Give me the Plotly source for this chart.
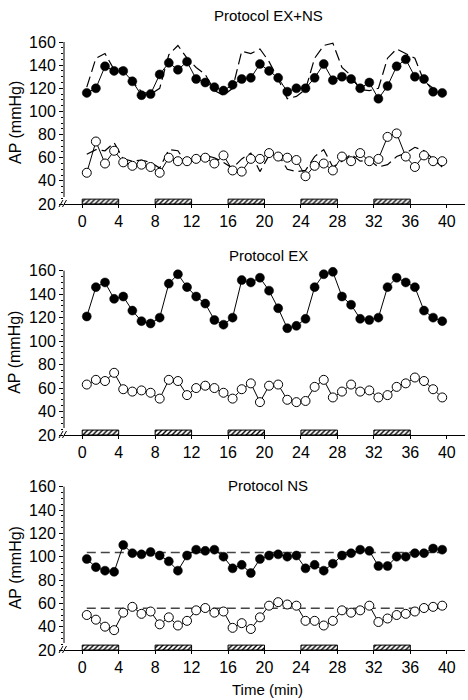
import plotly.graph_objects as go

# ---------------- data ----------------
time_min = [0.5, 1.5, 2.5, 3.5, 4.5, 5.5, 6.5, 7.5, 8.5, 9.5,
            10.5, 11.5, 12.5, 13.5, 14.5, 15.5, 16.5, 17.5, 18.5, 19.5,
            20.5, 21.5, 22.5, 23.5, 24.5, 25.5, 26.5, 27.5, 28.5, 29.5,
            30.5, 31.5, 32.5, 33.5, 34.5, 35.5, 36.5, 37.5, 38.5, 39.5]

exns_sys = [116, 120, 139, 135, 135, 126, 114, 115, 132, 142,
            136, 143, 128, 125, 121, 118, 123, 128, 129, 141,
            135, 129, 117, 120, 120, 129, 141, 127, 130, 128,
            120, 125, 111, 122, 139, 145, 130, 128, 117, 116]
exns_dia = [47, 74, 55, 66, 56, 53, 54, 52, 47, 60,
            57, 57, 59, 60, 55, 62, 49, 48, 59, 59,
            64, 61, 60, 58, 44, 53, 55, 49, 61, 57,
            64, 57, 59, 78, 81, 61, 52, 62, 57, 57]

ex_sys = [121, 146, 150, 136, 138, 126, 117, 115, 120, 149,
          157, 146, 138, 132, 118, 114, 120, 152, 150, 154,
          143, 128, 111, 113, 119, 146, 157, 159, 138, 131,
          119, 118, 120, 146, 154, 150, 146, 126, 120, 117]
ex_dia = [63, 67, 66, 73, 59, 57, 58, 56, 51, 67,
          66, 54, 60, 62, 60, 56, 51, 59, 64, 48,
          62, 63, 50, 48, 49, 61, 67, 52, 57, 63,
          57, 58, 52, 54, 61, 64, 69, 66, 59, 52]

ns_sys = [98, 91, 88, 87, 110, 103, 102, 104, 101, 96,
          88, 101, 106, 105, 106, 100, 90, 93, 86, 98,
          101, 102, 100, 101, 90, 93, 88, 94, 101, 103,
          106, 105, 92, 92, 100, 100, 103, 103, 107, 106]
ns_dia = [50, 46, 40, 37, 52, 57, 51, 53, 42, 48,
          41, 45, 54, 56, 52, 53, 39, 43, 38, 48,
          58, 61, 59, 58, 45, 45, 41, 45, 54, 52,
          54, 58, 44, 47, 50, 51, 53, 56, 57, 58]

ns_sys_mean = 103.5
ns_dia_mean = 55.7

exercise_start = [0, 8, 16, 24, 32]
exercise_duration = 4

panel_titles = ["Protocol EX+NS", "Protocol EX", "Protocol NS"]
y_title = "AP (mmHg)"
x_title = "Time (min)"
y_ticks = [20, 40, 60, 80, 100, 120, 140, 160]
x_ticks = [0, 4, 8, 12, 16, 20, 24, 28, 32, 36, 40]

# ---------------- layout geometry (pixels) ----------------
W, H = 468, 700
AX_X0, AX_X1 = 64, 465
panels_px = [(42, 204), (270.7, 435), (486.7, 650)]   # (top=160, bottom=20)
title_y_px = [15.5, 255.5, 485.5]
FONT = "Liberation Sans, Arial, Helvetica, sans-serif"


def px_x(p):
    return p / W


def px_y(p):
    return 1 - p / H


fig = go.Figure()

filled = dict(symbol="circle", size=9, color="black", line=dict(color="black", width=0.5))
opened = dict(symbol="circle", size=9, color="white", line=dict(color="black", width=1))

series = [
    (exns_sys, exns_dia, (ex_sys, ex_dia), None),
    (ex_sys, ex_dia, None, None),
    (ns_sys, ns_dia, None, (ns_sys_mean, ns_dia_mean)),
]

bar_x = [s + exercise_duration / 2 for s in exercise_start]

for i, (sysv, diav, overlay, means) in enumerate(series):
    xa = "x" if i == 0 else f"x{i+1}"
    ya = "y" if i == 0 else f"y{i+1}"
    # hatched exercise bars
    fig.add_trace(go.Bar(
        x=bar_x, y=[4.2] * len(bar_x), base=20, width=exercise_duration,
        marker=dict(color="white", line=dict(color="black", width=1),
                    pattern=dict(shape="/", fgcolor="black", bgcolor="white",
                                 size=3.5, solidity=0.4)),
        xaxis=xa, yaxis=ya, showlegend=False, hoverinfo="skip"))
    if overlay is not None:
        for ov in overlay:
            fig.add_trace(go.Scatter(
                x=time_min, y=ov, mode="lines",
                line=dict(color="black", width=1.2, dash="11px,5px"),
                xaxis=xa, yaxis=ya, showlegend=False, cliponaxis=False))
    if means is not None:
        for m in means:
            fig.add_trace(go.Scatter(
                x=[time_min[0], time_min[-1]], y=[m, m], mode="lines",
                line=dict(color="#444", width=1.5, dash="9px,5px"),
                xaxis=xa, yaxis=ya, showlegend=False, cliponaxis=False))
    fig.add_trace(go.Scatter(
        x=time_min, y=sysv, mode="lines+markers",
        line=dict(color="black", width=1), marker=filled,
        xaxis=xa, yaxis=ya, showlegend=False, cliponaxis=False))
    fig.add_trace(go.Scatter(
        x=time_min, y=diav, mode="lines+markers",
        line=dict(color="black", width=1), marker=opened,
        xaxis=xa, yaxis=ya, showlegend=False, cliponaxis=False))

layout = dict(
    width=W, height=H,
    margin=dict(l=0, r=0, t=0, b=0),
    paper_bgcolor="white", plot_bgcolor="white",
    font=dict(family=FONT, size=15, color="black"),
    barmode="overlay",
    template="none",
)

shapes = []
annotations = []
for i, (top, bot) in enumerate(panels_px):
    sfx = "" if i == 0 else str(i + 1)
    layout["xaxis" + sfx] = dict(
        domain=[px_x(AX_X0), px_x(AX_X1)], range=[-2, 42],
        anchor="y" + sfx, tickmode="array", tickvals=x_ticks,
        ticks="outside", ticklen=3, tickcolor="black",
        showline=True, linecolor="black", linewidth=1,
        showgrid=False, zeroline=False, automargin=False,
        tickfont=dict(family=FONT, size=16, color="black"))
    layout["yaxis" + sfx] = dict(
        domain=[px_y(bot), px_y(top)], range=[20, 160],
        anchor="x" + sfx, tickmode="array", tickvals=y_ticks,
        ticks="outside", ticklen=4, tickcolor="black",
        minor=dict(dtick=5, tick0=0, ticks="outside", ticklen=2, tickcolor="black"),
        showline=False, showgrid=False, zeroline=False, automargin=False,
        tickfont=dict(family=FONT, size=16, color="black"))
    # y axis line (broken near bottom)
    shapes.append(dict(type="line", xref="paper", yref="paper",
                       x0=px_x(AX_X0), x1=px_x(AX_X0), y0=px_y(top), y1=px_y(bot - 7),
                       line=dict(color="black", width=1)))
    # break marks
    for dx in (0, 3.5):
        shapes.append(dict(type="line", xref="paper", yref="paper",
                           x0=px_x(AX_X0 - 5 + dx), y0=px_y(bot + 3),
                           x1=px_x(AX_X0 - 1 + dx), y1=px_y(bot - 4),
                           line=dict(color="black", width=1)))
    annotations.append(dict(text=panel_titles[i], xref="paper", yref="paper",
                            x=px_x(268), y=px_y(title_y_px[i]),
                            xanchor="center", yanchor="middle", showarrow=False,
                            font=dict(family=FONT, size=15, color="black")))
    annotations.append(dict(text=y_title, xref="paper", yref="paper",
                            x=px_x(15), y=px_y((top + bot) / 2), textangle=-90,
                            xanchor="center", yanchor="middle", showarrow=False,
                            font=dict(family=FONT, size=16, color="black")))

annotations.append(dict(text=x_title, xref="paper", yref="paper",
                        x=px_x(267), y=px_y(700), xanchor="center", yanchor="bottom",
                        showarrow=False, font=dict(family=FONT, size=15, color="black")))

layout["shapes"] = shapes
layout["annotations"] = annotations
fig.update_layout(**layout)

fig.write_html("out.html")
